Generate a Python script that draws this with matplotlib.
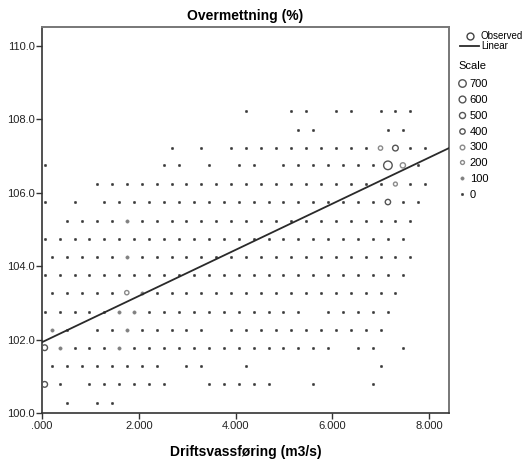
import matplotlib
matplotlib.use("Agg")
import matplotlib.pyplot as plt
from matplotlib.lines import Line2D
import numpy as np

plt.rcParams['font.family'] = ['Liberation Sans', 'DejaVu Sans']

# hex-bin centres (m3/s) for even and odd rows
x_even = [0.055, 0.363, 0.672, 0.980, 1.289, 1.597, 1.905, 2.214, 2.522,
          2.831, 3.139, 3.447, 3.756, 4.064, 4.373, 4.681, 4.989, 5.298,
          5.606, 5.915, 6.223, 6.531, 6.840, 7.148, 7.457, 7.765]
x_odd = [0.210, 0.518, 0.827, 1.135, 1.444, 1.752, 2.060, 2.369, 2.677,
         2.986, 3.294, 3.602, 3.911, 4.219, 4.528, 4.836, 5.144, 5.453,
         5.761, 6.070, 6.378, 6.686, 6.995, 7.303, 7.612, 7.920]

# bin rows (Overmettning, %), top to bottom
row_y = [108.22, 107.72, 107.22, 106.75, 106.24, 105.75, 105.24, 104.75,
         104.25, 103.76, 103.28, 102.76, 102.26, 101.78, 101.28, 100.78,
         100.27]
row_odd = [True, False, True, False, True, False, True, False,
           True, False, True, False, True, False, True, False, True]
row_cols = [
    [13, 16, 17, 19, 20, 22, 23, 24],
    [17, 18, 23, 24],
    [8, 10, 12, 13, 14, 15, 16, 17, 18, 19, 20, 21, 22, 23, 24, 25],
    [0, 8, 9, 11, 13, 14, 16, 17, 18, 19, 20, 21, 22, 23, 24, 25],
    list(range(3, 26)),
    [0, 2] + list(range(4, 26)),
    list(range(1, 25)),
    list(range(0, 25)),
    list(range(0, 25)),
    list(range(0, 25)),
    list(range(0, 24)),
    list(range(0, 18)) + [19, 20, 21, 22, 23],
    [0, 1, 3, 4, 5, 6, 7, 8, 9, 10] + list(range(12, 23)),
    list(range(0, 20)) + [21, 22, 24],
    [0, 1, 2, 3, 4, 5, 6, 7, 9, 10, 13, 22],
    [0, 1, 3, 4, 5, 6, 7, 8, 11, 12, 13, 14, 15, 18, 22],
    [1, 3, 4],
]

# bins with more than a handful of observations (row index, column, count)
big_row = [3, 3, 2, 2, 4, 5, 10, 13, 15, 10, 11, 11, 12, 12, 13, 13, 8, 6]
big_col = [23, 24, 22, 23, 23, 23, 5, 0, 0, 6, 5, 6, 0, 5, 1, 5, 5, 5]
big_n = [850, 380, 250, 450, 200, 400, 250, 450, 450, 100, 100, 100, 100,
         100, 100, 100, 100, 100]
few_n = 20

# linear fit shown on the chart
fit_a = 101.93
fit_b = 0.629

xticks = [0, 2, 4, 6, 8]
xtick_labels = ['.000', '2.000', '4.000', '6.000', '8.000']
yticks = [100, 102, 104, 106, 108, 110]
ytick_labels = ['100.0', '102.0', '104.0', '106.0', '108.0', '110.0']
scale_n = [700, 600, 500, 400, 300, 200, 100, 0]


def marker_style(n):
    # size/colour of a bin marker in SPSS style, diameter in points
    if n < 50:
        return 2.3 * 0.72, '#3a3a3a', '#3a3a3a', 0.4
    if n < 150:
        return 3.2 * 0.72, '#808080', '#808080', 0.5
    d = (2.5 + n / 700 * 5.0) * 0.72
    ec = '#555555' if n >= 400 else '#8a8a8a'
    return d, 'none', ec, 1.0


xs, ys, ns = [], [], []
for y, odd, cols in zip(row_y, row_odd, row_cols):
    centres = x_odd if odd else x_even
    for c in cols:
        xs.append(centres[c])
        ys.append(y)
        ns.append(few_n)
xs, ys, ns = np.array(xs), np.array(ys), np.array(ns)
for r, c, n in zip(big_row, big_col, big_n):
    centres = x_odd if row_odd[r] else x_even
    m = (xs == centres[c]) & (ys == row_y[r])
    ns[m] = n

fig = plt.figure(figsize=(5.25, 4.61), dpi=100)
ax = fig.add_axes([0.08, 0.1041, 0.7752, 0.8373])

for n in np.unique(ns):
    d, fc, ec, lw = marker_style(n)
    sel = ns == n
    ax.scatter(xs[sel], ys[sel], s=d ** 2, facecolors=fc, edgecolors=ec,
               linewidths=lw, zorder=3)

fx = np.array([0, 8.41])
ax.plot(fx, fit_a + fit_b * fx, color='#2a2a2a', lw=1.3, zorder=4)

ax.set_xlim(0, 8.41)
ax.set_ylim(100, 110.52)
ax.set_xticks(xticks)
ax.set_xticklabels(xtick_labels)
ax.set_yticks(yticks)
ax.set_yticklabels(ytick_labels)
ax.tick_params(direction='out', length=4, width=1, colors='#333333',
               labelsize=8, labelcolor='#222222')
ax.tick_params(axis='x', pad=2)
ax.tick_params(axis='y', pad=1)
for side in ['left', 'bottom']:
    ax.spines[side].set_color('#333333')
    ax.spines[side].set_linewidth(1.2)
for side in ['top', 'right']:
    ax.spines[side].set_color('#777777')
    ax.spines[side].set_linewidth(1.4)

ax.set_title('Overmettning (%)', fontsize=10, fontweight='bold', pad=5)
ax.set_xlabel('Driftsvassføring (m3/s)', fontsize=10, fontweight='bold',
              labelpad=10)

h1 = [Line2D([], [], marker='o', ls='none', ms=5, mfc='none', mec='#444444',
             mew=1.0),
      Line2D([], [], color='#2a2a2a', lw=1.3)]
leg1 = fig.legend(h1, ['Observed', 'Linear'], loc='upper left',
                  bbox_to_anchor=(460 / 525, 1 - 31 / 461), frameon=False,
                  fontsize=7, handlelength=2.0, handletextpad=0.15,
                  labelspacing=0.05, borderpad=0, borderaxespad=0)

h2 = []
for n in scale_n:
    d, fc, ec, lw = marker_style(n)
    h2.append(Line2D([], [], marker='o', ls='none', ms=d, mfc=fc, mec=ec,
                     mew=lw))
leg2 = fig.legend(h2, [str(n) for n in scale_n], title='Scale',
                  loc='upper left', bbox_to_anchor=(458 / 525, 1 - 63 / 461),
                  frameon=False, fontsize=8, title_fontsize=8,
                  handlelength=0.7, handletextpad=0.35, labelspacing=0.53,
                  borderpad=0, borderaxespad=0, alignment='left')
leg2.get_title().set_position((0, 2.2))

fig.savefig('out.png', dpi=100)
